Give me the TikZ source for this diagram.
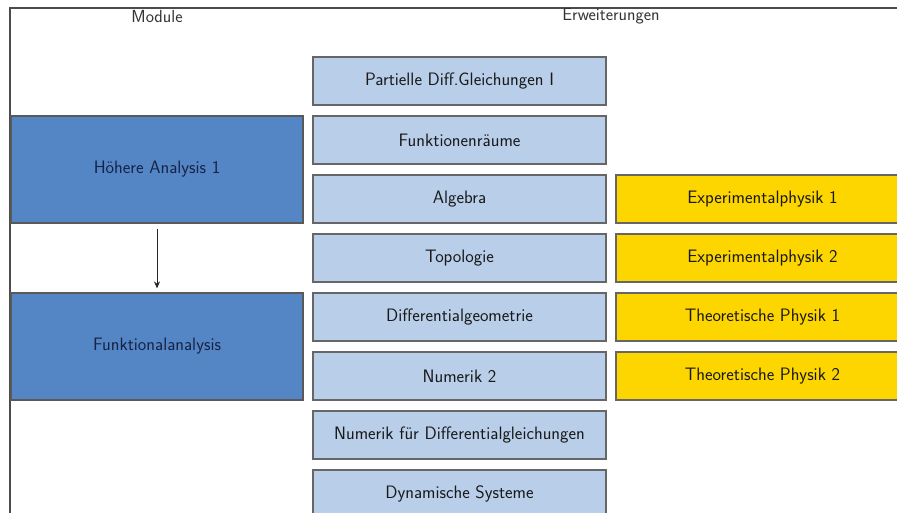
\documentclass[tikz,border=0pt]{standalone}
\usetikzlibrary{arrows.meta, positioning}
\definecolor{modBlue}{RGB}{84,134,197}
\definecolor{extBlue}{RGB}{184,206,233}
\definecolor{physGold}{RGB}{253,214,0}
\definecolor{textNavy}{RGB}{22,34,70}

\begin{document}
\begin{tikzpicture}[x=1pt, y=-1pt,
    modul/.style={rectangle, draw=black!65, fill=modBlue, line width=1.2pt, minimum width=292pt, minimum height=107pt, inner sep=0pt, font=\sffamily\fontsize{18}{21}\selectfont, text=textNavy},
    ext/.style={rectangle, draw=black!60, fill=extBlue, line width=1.2pt, minimum width=293pt, minimum height=48pt, inner sep=0pt, font=\sffamily\fontsize{18}{21}\selectfont, text=black!90},
    phys/.style={ext, fill=physGold, text=black!90},
    head/.style={font=\sffamily\fontsize{17.5}{21}\selectfont, text=black!80},
    arr/.style={-{Stealth[length=7pt, width=6pt]}, line width=0.8pt, black!85, shorten <=5pt, shorten >=4pt}
  ]
    \clip (0,0) rectangle (897,513);
    \fill[white] (0,0) rectangle (897,513);
    \draw[black!70, line width=1.5pt] (10,520) -- (10,8) -- (900,8);

    % headers
    \node[head] (hmod) at (157,17) {Module};
    \node[head] (hext) at (611,16) {Erweiterungen};

    % Module
    \node[modul] (ha1) at (157,169.5) {Höhere Analysis 1};
    \node[modul] (fa) at (157,346.5) {Funktionalanalysis};

    % Erweiterungen (Mathematik)
    \node[ext] (pdg) at (459.5,81) {Partielle Diff.Gleichungen I};
    \node[ext] (fr) at (459.5,140) {Funktionenräume};
    \node[ext] (alg) at (459.5,199) {Algebra};
    \node[ext] (top) at (459.5,258) {Topologie};
    \node[ext] (dg) at (459.5,317) {Differentialgeometrie};
    \node[ext] (num2) at (459.5,376) {Numerik 2};
    \node[ext] (ndg) at (459.5,435) {Numerik für Differentialgleichungen};
    \node[ext] (dyn) at (459.5,494) {Dynamische Systeme};

    % Erweiterungen (Physik)
    \node[phys] (ep1) at (762.5,199) {Experimentalphysik 1};
    \node[phys] (ep2) at (762.5,258) {Experimentalphysik 2};
    \node[phys] (tp1) at (762.5,317) {Theoretische Physik 1};
    \node[phys] (tp2) at (762.5,376) {Theoretische Physik 2};

    \draw[arr] (ha1) -- (fa);
\end{tikzpicture}
\end{document}
